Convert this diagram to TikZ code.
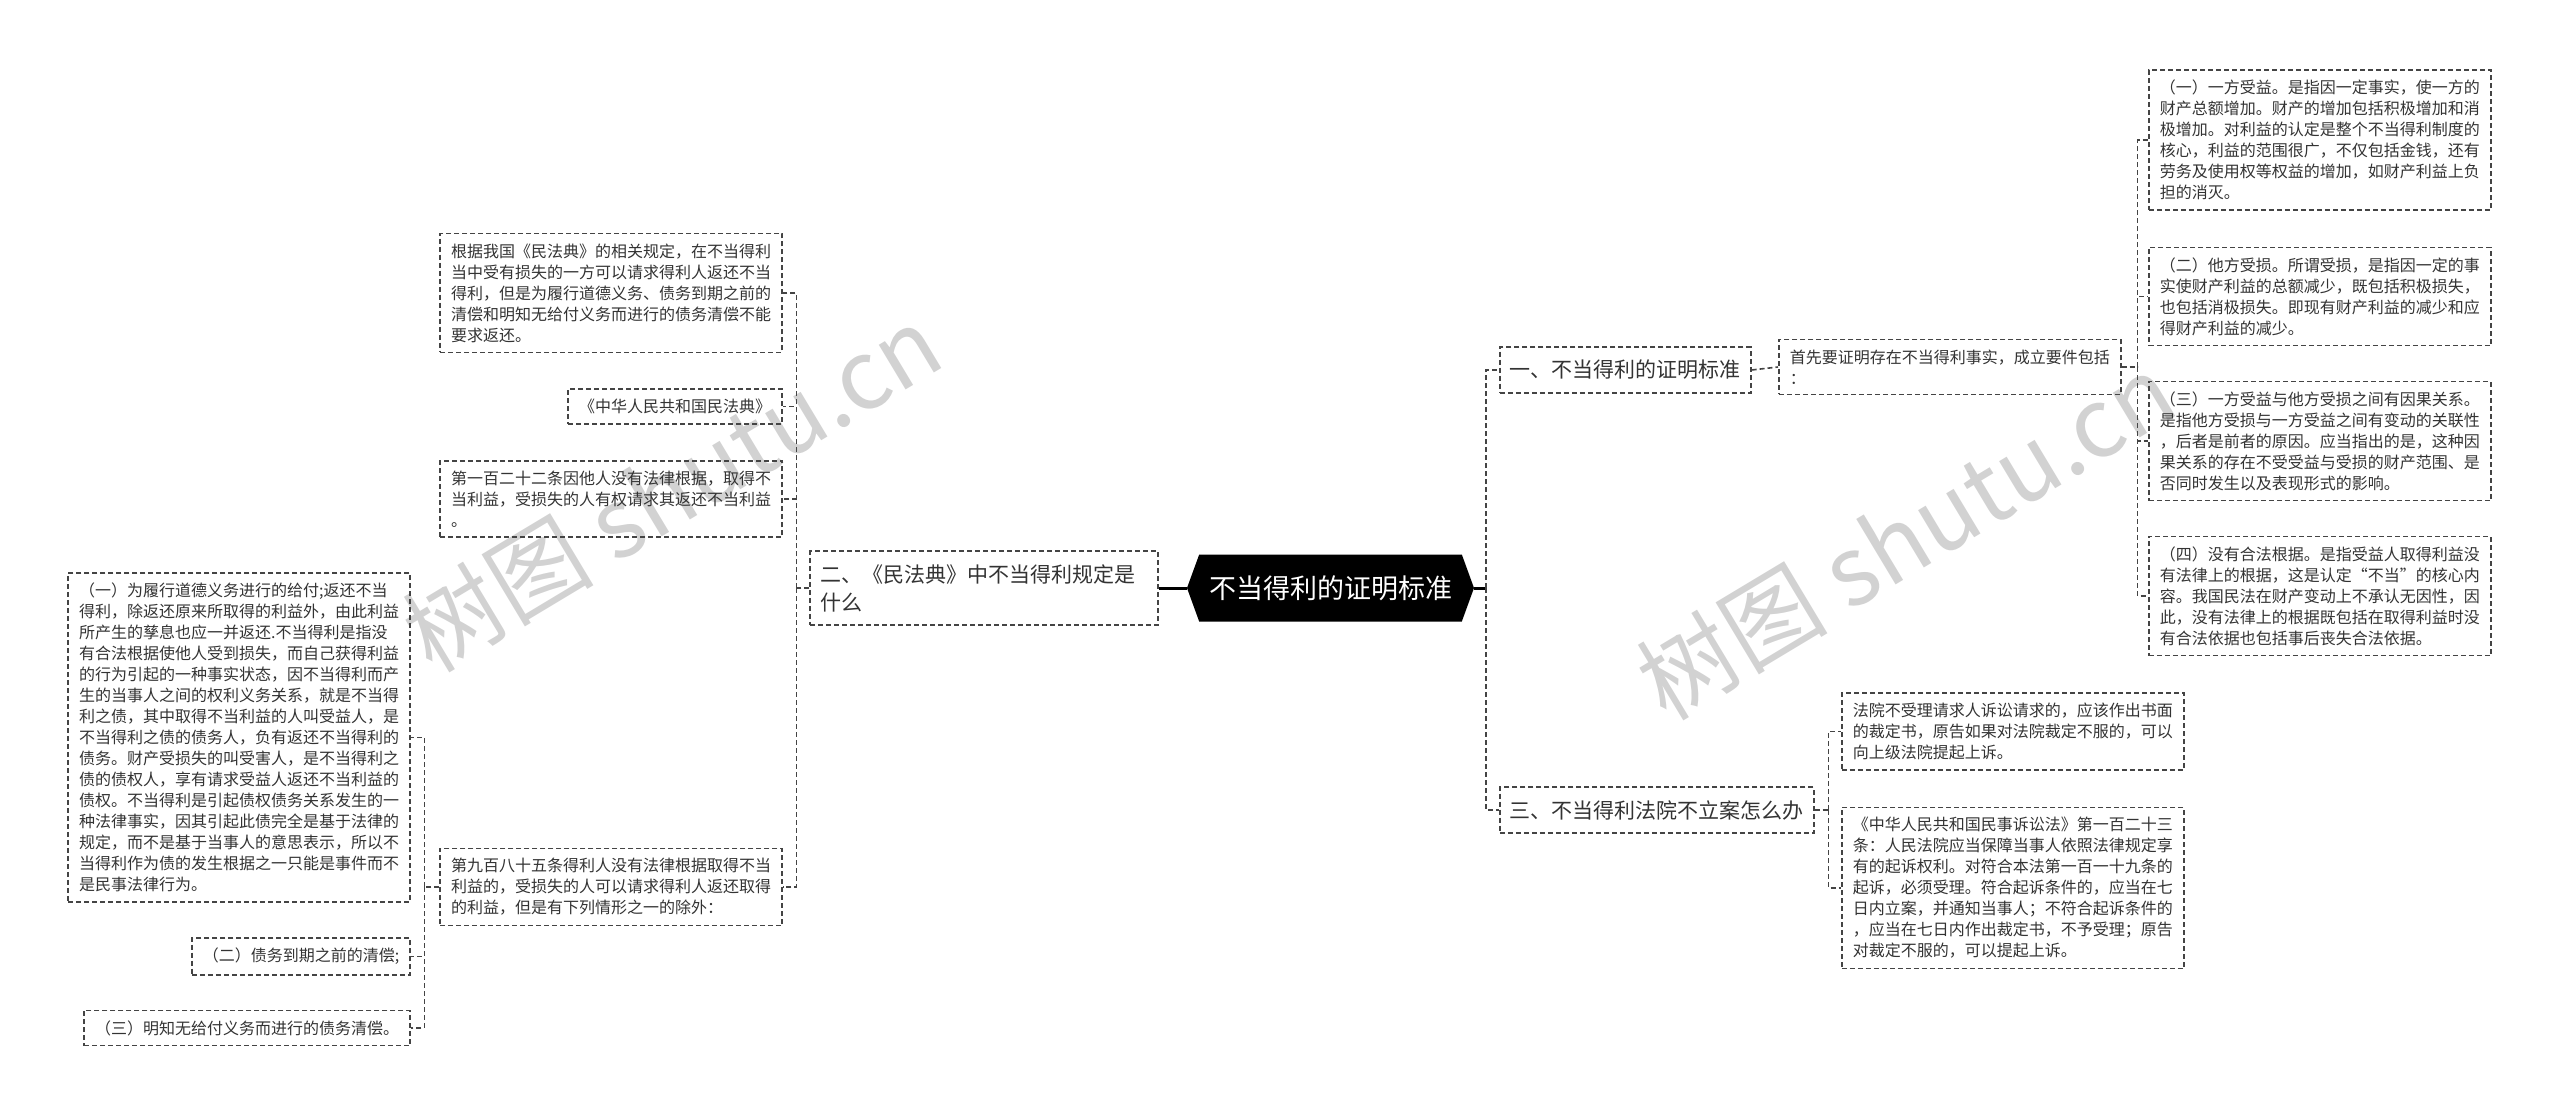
\documentclass[tikz,border=0pt]{standalone}
\usepackage{fontspec}
\setmainfont{Noto Sans CJK SC}
\usetikzlibrary{shapes.symbols}

\definecolor{linegray}{HTML}{444444}
\definecolor{textgray}{HTML}{333333}
\definecolor{wmgray}{HTML}{D2D2D2}

\tikzset{
  link/.style={draw=linegray, line width=1.6pt, dash pattern=on 5pt off 3pt},
  trunk/.style={draw=black, line width=3pt},
  leaf/.style={draw=linegray, line width=1.6pt, dash pattern=on 5pt off 3pt,
    text=textgray, align=left, inner xsep=11pt, inner ysep=10pt,
    font=\fontsize{16}{21}\selectfont},
  topic/.style={leaf, inner xsep=10pt, inner ysep=13pt,
    font=\fontsize{21}{28}\selectfont},
  hub/.style={signal, signal to=west and east, signal pointer angle=140,
    fill=black, text=white, inner sep=0pt, minimum width=287pt,
    minimum height=67pt, font=\fontsize{27}{32}\selectfont},
  wmark/.style={text=wmgray, rotate=31, font=\fontsize{96}{96}\selectfont}
}

\begin{document}
\begin{tikzpicture}[x=1pt,y=-1pt]
\useasboundingbox (0,0) rectangle (2560,1117);

% watermarks
\node[wmark] (wm1) at (672,488) {树图 shutu.cn};
\node[wmark] (wm2) at (1906,536) {树图 shutu.cn};

% central topic and main branches
\node[hub] (main) at (1330.5,588) {不当得利的证明标准};
\node[topic, anchor=west] (std) at (1499,370) {一、不当得利的证明标准};
\node[topic, anchor=east, text width=328pt] (law) at (1159,588) {二、《民法典》中不当得利规定是\\什么};
\node[topic, anchor=west] (court) at (1499,810) {三、不当得利法院不立案怎么办};

% proof standard
\node[leaf, anchor=west] (cond) at (1778,367) {首先要证明存在不当得利事实，成立要件包括\\：};
\node[leaf, anchor=west] (c1) at (2148,140) {（一）一方受益。是指因一定事实，使一方的\\财产总额增加。财产的增加包括积极增加和消\\极增加。对利益的认定是整个不当得利制度的\\核心，利益的范围很广，不仅包括金钱，还有\\劳务及使用权等权益的增加，如财产利益上负\\担的消灭。};
\node[leaf, anchor=west] (c2) at (2148,296.5) {（二）他方受损。所谓受损，是指因一定的事\\实使财产利益的总额减少，既包括积极损失，\\也包括消极损失。即现有财产利益的减少和应\\得财产利益的减少。};
\node[leaf, anchor=west] (c3) at (2148,441) {（三）一方受益与他方受损之间有因果关系。\\是指他方受损与一方受益之间有变动的关联性\\，后者是前者的原因。应当指出的是，这种因\\果关系的存在不受受益与受损的财产范围、是\\否同时发生以及表现形式的影响。};
\node[leaf, anchor=west] (c4) at (2148,596) {（四）没有合法根据。是指受益人取得利益没\\有法律上的根据，这是认定“不当”的核心内\\容。我国民法在财产变动上不承认无因性，因\\此，没有法律上的根据既包括在取得利益时没\\有合法依据也包括事后丧失合法依据。};

% court refuses the case
\node[leaf, anchor=west] (r1) at (1841,731.5) {法院不受理请求人诉讼请求的，应该作出书面\\的裁定书，原告如果对法院裁定不服的，可以\\向上级法院提起上诉。};
\node[leaf, anchor=west] (r2) at (1841,888) {《中华人民共和国民事诉讼法》第一百二十三\\条：人民法院应当保障当事人依照法律规定享\\有的起诉权利。对符合本法第一百一十九条的\\起诉，必须受理。符合起诉条件的，应当在七\\日内立案，并通知当事人；不符合起诉条件的\\，应当在七日内作出裁定书，不予受理；原告\\对裁定不服的，可以提起上诉。};

% civil code
\node[leaf, anchor=east] (k1) at (783,293) {根据我国《民法典》的相关规定，在不当得利\\当中受有损失的一方可以请求得利人返还不当\\得利，但是为履行道德义务、债务到期之前的\\清偿和明知无给付义务而进行的债务清偿不能\\要求返还。};
\node[leaf, anchor=east] (k2) at (783,406.5) {《中华人民共和国民法典》};
\node[leaf, anchor=east] (k3) at (783,499) {第一百二十二条因他人没有法律根据，取得不\\当利益，受损失的人有权请求其返还不当利益\\。};
\node[leaf, anchor=east] (k4) at (783,887) {第九百八十五条得利人没有法律根据取得不当\\利益的，受损失的人可以请求得利人返还取得\\的利益，但是有下列情形之一的除外：};

% exceptions
\node[leaf, anchor=east] (e1) at (411,737.5) {（一）为履行道德义务进行的给付;返还不当\\得利，除返还原来所取得的利益外，由此利益\\所产生的孳息也应一并返还.不当得利是指没\\有合法根据使他人受到损失，而自己获得利益\\的行为引起的一种事实状态，因不当得利而产\\生的当事人之间的权利义务关系，就是不当得\\利之债，其中取得不当利益的人叫受益人，是\\不当得利之债的债务人，负有返还不当得利的\\债务。财产受损失的叫受害人，是不当得利之\\债的债权人，享有请求受益人返还不当利益的\\债权。不当得利是引起债权债务关系发生的一\\种法律事实，因其引起此债完全是基于法律的\\规定，而不是基于当事人的意思表示，所以不\\当得利作为债的发生根据之一只能是事件而不\\是民事法律行为。};
\node[leaf, anchor=east] (e2) at (411,956.5) {（二）债务到期之前的清偿;};
\node[leaf, anchor=east] (e3) at (411,1028) {（三）明知无给付义务而进行的债务清偿。};

% connectors
\draw[trunk] (main.west) -- (law.east);
\draw[trunk] (main.east) -- ++(12,0) coordinate (mainR);
\draw[link] (mainR) |- (std.west);
\draw[link] (mainR) |- (court.west);
\draw[link] (std.east) -- (cond.west);

\draw[link] (cond.east) -- ++(16,0) coordinate (condR);
\draw[link] (condR) |- (c1.west);
\draw[link] (condR) |- (c2.west);
\draw[link] (condR) |- (c3.west);
\draw[link] (condR) |- (c4.west);

\draw[link] (court.east) -- ++(14,0) coordinate (courtR);
\draw[link] (courtR) |- (r1.west);
\draw[link] (courtR) |- (r2.west);

\draw[link] (law.west) -- ++(-13,0) coordinate (lawL);
\draw[link] (lawL) |- (k1.east);
\draw[link] (lawL) |- (k2.east);
\draw[link] (lawL) |- (k3.east);
\draw[link] (lawL) |- (k4.east);

\draw[link] (k4.west) -- ++(-15,0) coordinate (k4L);
\draw[link] (k4L) |- (e1.east);
\draw[link] (k4L) |- (e2.east);
\draw[link] (k4L) |- (e3.east);
\end{tikzpicture}
\end{document}
